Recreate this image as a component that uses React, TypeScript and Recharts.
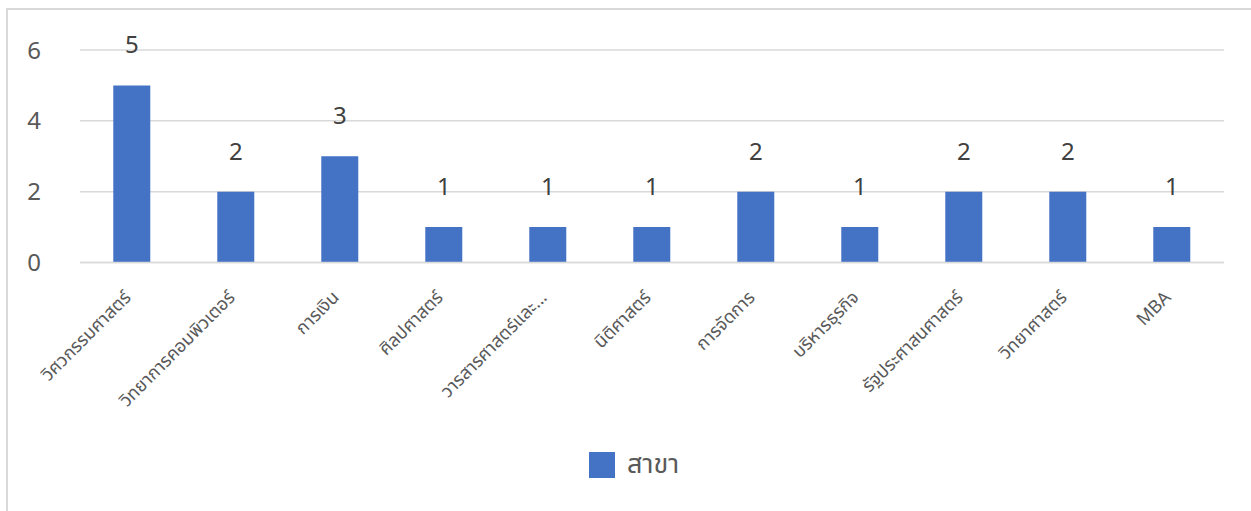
import { BarChart, Bar, XAxis, YAxis, CartesianGrid, Legend, LabelList } from "recharts";

const categories = [
  "วิศวกรรมศาสตร์",
  "วิทยาการคอมพิวเตอร์",
  "การเงิน",
  "ศิลปศาสตร์",
  "วารสารศาสตร์และ...",
  "นิติศาสตร์",
  "การจัดการ",
  "บริหารธุรกิจ",
  "รัฐประศาสนศาสตร์",
  "วิทยาศาสตร์",
  "MBA",
];
const counts = [5, 2, 3, 1, 1, 1, 2, 1, 2, 2, 1];
const yTicks = [0, 2, 4, 6];
const seriesName = "สาขา";

const data = categories.map((name, i) => ({ name, value: counts[i] }));

const FONT = "'Noto Sans', 'Noto Sans Thai', 'Leelawadee UI', Tahoma, sans-serif";
const BLUE = "#4472C4";

// rotated category labels under the axis
const XTick = ({ x, y, payload }: any) => (
  <g transform={`translate(${x},${y + 28}) rotate(-45)`}>
    <text textAnchor="end" fill="#595959" fontSize={18} fontFamily={FONT}>
      {payload.value}
    </text>
  </g>
);

const LegendBox = () => (
  <div style={{ display: "flex", alignItems: "center", fontFamily: FONT }}>
    <span style={{ width: 26, height: 26, background: BLUE, display: "inline-block" }} />
    <span style={{ marginLeft: 12, fontSize: 27, color: "#595959" }}>{seriesName}</span>
  </div>
);

export default function App() {
  return (
    <div
      style={{
        position: "absolute",
        left: 6,
        top: 8,
        width: 1260,
        height: 520,
        border: "2px solid #d9d9d9",
        background: "#fff",
      }}
    >
      <BarChart
        width={1240}
        height={505}
        data={data}
        margin={{ top: 40, right: 24, left: 12, bottom: 81.5 }}
        barCategoryGap="32%"
      >
        <CartesianGrid vertical={false} stroke="#d9d9d9" strokeWidth={1.5} />
        <XAxis
          dataKey="name"
          interval={0}
          height={130}
          tickLine={false}
          axisLine={{ stroke: "#d9d9d9", strokeWidth: 1.5 }}
          tick={<XTick />}
        />
        <YAxis
          width={60}
          domain={[0, 6]}
          ticks={yTicks}
          axisLine={false}
          tickLine={false}
          tickMargin={33}
          tick={{ fill: "#595959", fontSize: 24, fontFamily: FONT }}
        />
        <Legend
          verticalAlign="bottom"
          content={<LegendBox />}
          wrapperStyle={{ left: 581, top: 434, width: "auto" }}
        />
        <Bar dataKey="value" name={seriesName} fill={BLUE} isAnimationActive={false}>
          <LabelList
            dataKey="value"
            position="top"
            offset={32}
            fill="#404040"
            fontSize={24}
            fontFamily={FONT}
          />
        </Bar>
      </BarChart>
    </div>
  );
}
